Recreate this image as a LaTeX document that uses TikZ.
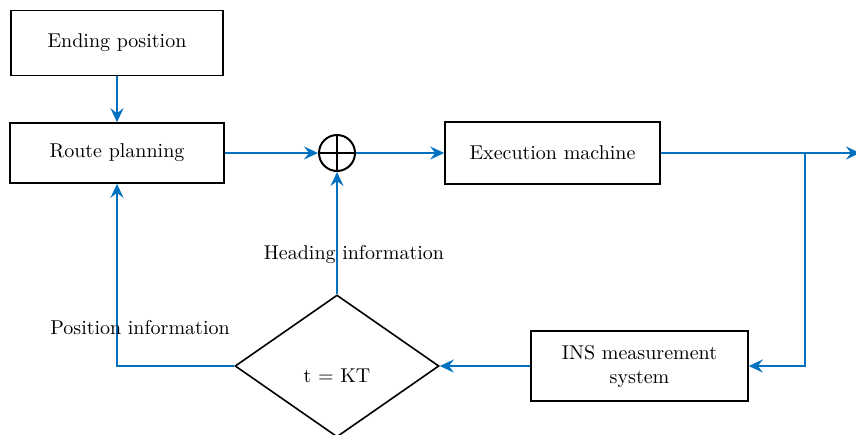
\documentclass[tikz,border=0pt]{standalone}
\usepackage{xcolor}
\usepackage{tikz}
\usetikzlibrary{arrows.meta,positioning,shapes.geometric}
\definecolor{flow}{RGB}{0,112,192}

\begin{document}
\begin{tikzpicture}[x=0.5pt, y=-0.5pt, node distance=23pt,
  box/.style={draw, line width=0.8pt, align=center, minimum width=107pt, minimum height=31pt, inner sep=3pt},
  decision/.style={draw, diamond, line width=0.8pt, minimum width=102pt, minimum height=71pt, inner sep=0pt},
  sum/.style={draw, circle, line width=1pt, minimum size=18pt, inner sep=0pt},
  arr/.style={-{Stealth[length=7pt, width=6.5pt, inset=2.5pt]}, line width=1pt, draw=flow}]
  \useasboundingbox (0,0) rectangle (856,434);
  \node[box, minimum height=30pt] (r) at (117,153) {Route planning};
  \node[box, minimum width=106pt, minimum height=32.5pt, above=of r] (e) {Ending position};
  \node[sum] (s) at (337,153) {};
  \draw[line width=1pt] (s.north) -- (s.south) (s.west) -- (s.east);
  \node[box, minimum width=107.5pt] (m) at (552.5,153) {Execution machine};
  \node[box, minimum width=108.5pt, minimum height=35pt] (ins) at (639.5,366) {INS measurement\\system};
  \node[decision, label={[yshift=-5pt]center:t = KT}] (d) at (337,366) {};
  \coordinate (br) at (805,153);
  \coordinate (out) at (860,153);
  \draw[arr] (e) -- (r); \draw[arr] (r) -- (s); \draw[arr] (s) -- (m); \draw[arr] (m) -- (out);
  \draw[arr] (br) |- (ins.east); \draw[arr] (ins) -- (d.east);
  \draw[arr] (d.north) -- (s.south); \draw[arr] (d.west) -| (r.south);
  \node (hi) at (354,255) {Heading information};
  \node (pi) at (140,328) {Position information};
\end{tikzpicture}
\end{document}
